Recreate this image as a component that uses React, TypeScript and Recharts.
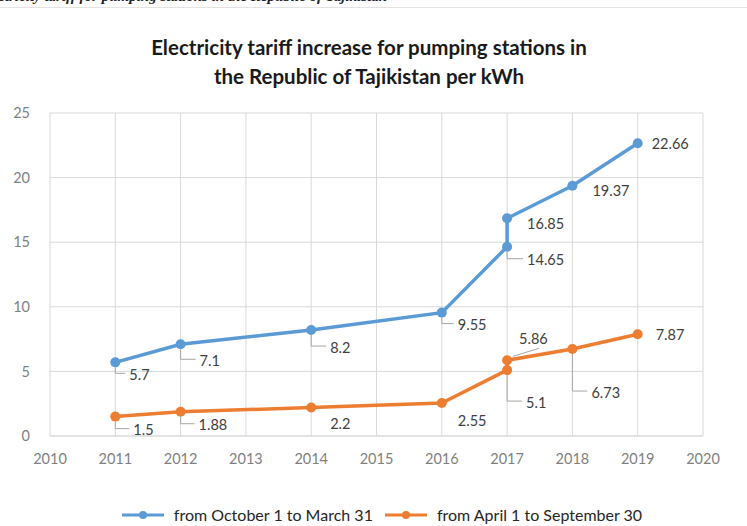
import React from 'react';
import { LineChart, Line, XAxis, YAxis, CartesianGrid, LabelList } from 'recharts';

const years = [2010, 2011, 2012, 2013, 2014, 2015, 2016, 2017, 2018, 2019, 2020];
const valueTicks = [0, 5, 10, 15, 20, 25];

const winterYears = [2011, 2012, 2014, 2016, 2017, 2017, 2018, 2019];
const winterValues = [5.7, 7.1, 8.2, 9.55, 14.65, 16.85, 19.37, 22.66];

const summerYears = [2011, 2012, 2014, 2016, 2017, 2017, 2018, 2019];
const summerValues = [1.5, 1.88, 2.2, 2.55, 5.1, 5.86, 6.73, 7.87];

const winterName = 'from October 1 to March 31';
const summerName = 'from April 1 to September 30';

const winterData = winterYears.map((year, i) => ({ year, value: winterValues[i] }));
const summerData = summerYears.map((year, i) => ({ year, value: summerValues[i] }));

const BLUE = '#5b9bd5';
const ORANGE = '#ed7d31';
const FONT = 'Lato, "Open Sans", sans-serif';

// label offsets from the point, and leader style: 'L' elbow, 'd' diagonal, '' none
const winterLabels: [number, number, string][] = [
  [14, 12, 'L'],
  [19, 16, 'L'],
  [19, 17, 'L'],
  [16, 12, 'L'],
  [20, 13, 'L'],
  [20, 5, ''],
  [20, 5, ''],
  [14, 0, ''],
];
const summerLabels: [number, number, string][] = [
  [18, 13, 'L'],
  [18, 13, 'L'],
  [19, 16, ''],
  [16, 17, ''],
  [19, 32, 'L'],
  [12, -22, 'd'],
  [19, 43, 'L'],
  [18, 0, ''],
];

const makeLabel = (pos: [number, number, string][]) => (props: any) => {
  const { x, y, value, index } = props;
  const [dx, dy, lead] = pos[index] || [14, 0, ''];
  let leader = null;
  if (lead === 'L') {
    leader = (
      <path
        d={`M${x},${y + 5} L${x},${y + dy - 1} L${x + dx - 4},${y + dy - 1}`}
        fill="none"
        stroke="#a6a6a6"
        strokeWidth={1}
      />
    );
  } else if (lead === 'd') {
    leader = (
      <path
        d={`M${x + 6},${y - 4} L${x + 32},${y - 12}`}
        fill="none"
        stroke="#a6a6a6"
        strokeWidth={1}
      />
    );
  }
  return (
    <g>
      {leader}
      <text
        x={x + dx}
        y={y + dy}
        dominantBaseline="central"
        textAnchor="start"
        fontSize={14.5}
        fontFamily={FONT}
        fill="#404040"
      >
        {value}
      </text>
    </g>
  );
};

const LegendItem = ({ color, label }: { color: string; label: string }) => (
  <div style={{ display: 'flex', alignItems: 'center', marginRight: 8 }}>
    <svg width={42} height={12} style={{ marginRight: 10 }}>
      <line x1={0} y1={6} x2={42} y2={6} stroke={color} strokeWidth={3} />
      <circle cx={21} cy={6} r={4} fill={color} />
    </svg>
    <span>{label}</span>
  </div>
);

export default function App() {
  return (
    <div
      style={{
        position: 'absolute',
        left: 0,
        top: 0,
        width: 747,
        height: 526,
        background: '#fff',
        overflow: 'hidden',
        fontFamily: FONT,
      }}
    >
      <div
        style={{
          position: 'absolute',
          left: 0,
          top: 0,
          width: 400,
          height: 5,
          overflow: 'hidden',
        }}
      >
        <div
          style={{
            position: 'absolute',
            right: 13,
            top: -12,
            fontFamily: '"Liberation Serif", serif',
            fontStyle: 'italic',
            fontWeight: 700,
            fontSize: 15,
            whiteSpace: 'nowrap',
            color: '#222',
          }}
        >
          Electricity tariff for pumping stations in the Republic of Tajikistan
        </div>
      </div>
      <div
        style={{
          position: 'absolute',
          left: 0,
          top: 7,
          width: 747,
          height: 1,
          background: '#e3e3e3',
        }}
      />
      <div
        style={{
          position: 'absolute',
          left: 0,
          top: 33,
          width: 738,
          textAlign: 'center',
          fontSize: 20.5,
          fontWeight: 700,
          lineHeight: '29px',
          color: '#1a1a1a',
        }}
      >
        Electricity tariff increase for pumping stations in
        <br />
        the Republic of Tajikistan per kWh
      </div>
      <div style={{ position: 'absolute', left: 0, top: 0 }}>
        <LineChart
          width={747}
          height={526}
          margin={{ top: 113, right: 44, bottom: 60, left: 10 }}
        >
          <CartesianGrid stroke="#d9d9d9" strokeWidth={1} />
          <XAxis
            dataKey="year"
            type="number"
            domain={[2010, 2020]}
            ticks={years}
            allowDuplicatedCategory={false}
            tickLine={false}
            axisLine={{ stroke: '#d9d9d9' }}
            tickMargin={12}
            height={30}
            tick={{ fontSize: 14.5, fill: '#7f7f7f', fontFamily: FONT }}
          />
          <YAxis
            type="number"
            domain={[0, 25]}
            ticks={valueTicks}
            tickLine={false}
            axisLine={false}
            width={40}
            tickMargin={14}
            tick={{ fontSize: 14.5, fill: '#7f7f7f', fontFamily: FONT }}
          />
          <Line
            data={winterData}
            dataKey="value"
            name={winterName}
            type="linear"
            stroke={BLUE}
            strokeWidth={3.5}
            dot={{ r: 5, fill: BLUE, stroke: BLUE, strokeWidth: 0 }}
            isAnimationActive={false}
          >
            <LabelList dataKey="value" content={makeLabel(winterLabels)} />
          </Line>
          <Line
            data={summerData}
            dataKey="value"
            name={summerName}
            type="linear"
            stroke={ORANGE}
            strokeWidth={3.5}
            dot={{ r: 5, fill: ORANGE, stroke: ORANGE, strokeWidth: 0 }}
            isAnimationActive={false}
          >
            <LabelList dataKey="value" content={makeLabel(summerLabels)} />
          </Line>
        </LineChart>
      </div>
      <div
        style={{
          position: 'absolute',
          left: 0,
          top: 505,
          width: 772,
          display: 'flex',
          justifyContent: 'center',
          fontSize: 16,
          color: '#262626',
        }}
      >
        <LegendItem color={BLUE} label={winterName} />
        <div style={{ width: 4 }} />
        <LegendItem color={ORANGE} label={summerName} />
      </div>
    </div>
  );
}
